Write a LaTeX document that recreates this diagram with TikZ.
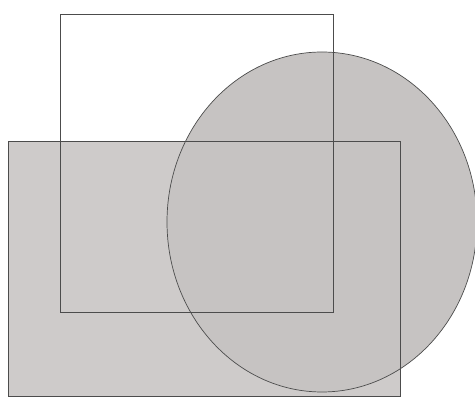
\documentclass[tikz,border=0pt]{standalone}
\begin{document}
\begin{tikzpicture}[x=1pt,y=1pt,
  outline/.style={draw=black!70,line width=0.7pt},
  greyfill/.style={fill={rgb,255:red,206;green,203;blue,202}},
  circfill/.style={fill={rgb,255:red,198;green,195;blue,194}}]
\fill[white] (0,0) rectangle (475,401);
\useasboundingbox (0,0) rectangle (475,401);
% fills
\fill[greyfill] (8,5) rectangle (400,260);
\fill[circfill] (322,179) ellipse [x radius=155, y radius=170];
% outlines
\draw[outline] (60,89) rectangle (333,387);
\draw[outline] (8,5) rectangle (400,260);
\draw[outline] (322,179) ellipse [x radius=155, y radius=170];
\end{tikzpicture}
\end{document}
